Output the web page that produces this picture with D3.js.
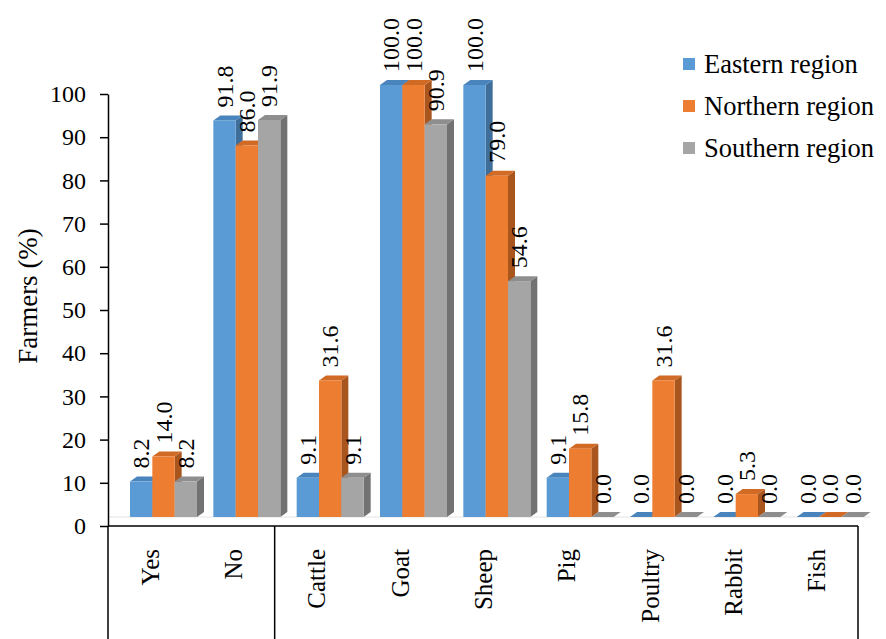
<html lang="en">
  <head>
    <meta charset="UTF-8" />
    <title>Farmers by region</title>
    <script src="https://d3js.org/d3.v7.min.js"></script>
    <style>
      body {
        margin: 0px;
        overflow: hidden;
        background: #fff;
      }
    </style>
  </head>
  <body>
    <svg width="886" height="639"></svg>
    <script>
      var categories = ["Yes", "No", "Cattle", "Goat", "Sheep", "Pig", "Poultry", "Rabbit", "Fish"];
      var series = ["Eastern region", "Northern region", "Southern region"];
      var eastern = [8.2, 91.8, 9.1, 100.0, 100.0, 9.1, 0.0, 0.0, 0.0];
      var northern = [14.0, 86.0, 31.6, 100.0, 79.0, 15.8, 31.6, 5.3, 0.0];
      var southern = [8.2, 91.9, 9.1, 90.9, 54.6, 0.0, 0.0, 0.0, 0.0];
      var yTicks = [0, 10, 20, 30, 40, 50, 60, 70, 80, 90, 100];

      var colors = {
        front: ["#5B9BD5", "#ED7D31", "#A5A5A5"],
        top: ["#4A84BC", "#D06A25", "#8E8E8E"],
        side: ["#3F6E9B", "#A9561E", "#727272"]
      };
      var serif = "'Liberation Serif', 'Times New Roman', serif";

      var svg = d3.select("svg").style("font-family", serif);
      var width = +svg.attr("width");
      var height = +svg.attr("height");

      var values = [eastern, northern, southern];
      var data = categories.map(function (c, i) {
        return { cat: c, vals: series.map(function (s, j) { return { s: s, j: j, v: values[j][i] }; }) };
      });

      // category bands span the table under the plot
      var x = d3.scaleBand().domain(categories).range([108, 858]);
      var y = d3.scaleLinear().domain([0, 100]).range([526, 94]);
      var inner = d3.scaleBand().domain(series).range([0, 67]);

      // 3d look: front faces shifted right/up, depth goes up-right
      var shiftX = 22, shiftY = -9;
      var dx = 7, dy = -5;

      // floor edge
      svg.append("line")
        .attr("x1", 108).attr("x2", 870)
        .attr("y1", y(0) + shiftY).attr("y2", y(0) + shiftY)
        .attr("stroke", "#e3e3e3").attr("stroke-width", 1);

      var groups = svg.selectAll("g.cat")
        .data(data)
        .enter()
        .append("g")
        .attr("class", "cat")
        .attr("transform", function (d) { return "translate(" + (x(d.cat) + shiftX) + ",0)"; });

      groups.each(function (d) {
        var g = d3.select(this);
        d.vals.forEach(function (b) {
          var x0 = inner(b.s), x1 = x0 + inner.bandwidth();
          var yt = y(b.v) + shiftY, yb = y(0) + shiftY;
          // side face
          g.append("path")
            .attr("d", "M" + x1 + "," + yb + "L" + (x1 + dx) + "," + (yb + dy) + "L" + (x1 + dx) + "," + (yt + dy) + "L" + x1 + "," + yt + "Z")
            .attr("fill", colors.side[b.j]);
          // top face
          g.append("path")
            .attr("d", "M" + x0 + "," + yt + "L" + (x0 + dx) + "," + (yt + dy) + "L" + (x1 + dx) + "," + (yt + dy) + "L" + x1 + "," + yt + "Z")
            .attr("fill", colors.top[b.j]);
          // front face
          g.append("rect")
            .attr("x", x0)
            .attr("y", yt)
            .attr("width", inner.bandwidth())
            .attr("height", yb - yt)
            .attr("fill", colors.front[b.j]);
        });
      });

      // value labels
      groups.each(function (d) {
        var g = d3.select(this);
        d.vals.forEach(function (b) {
          var cx = inner(b.s) + inner.bandwidth() / 2;
          var yt = y(b.v) + shiftY - 13;
          g.append("text")
            .attr("transform", "translate(" + (cx + 8) + "," + yt + ") rotate(-90)")
            .attr("text-anchor", "start")
            .style("font-family", serif)
            .attr("font-size", 24)
            .text(b.v.toFixed(1));
        });
      });

      // y axis
      var yAxis = svg.append("g")
        .attr("transform", "translate(108,0)")
        .call(d3.axisLeft(y).tickValues(yTicks).tickSize(8).tickSizeOuter(0).tickPadding(14));
      yAxis.selectAll("path, line").attr("stroke", "#000").attr("stroke-width", 1.5);
      yAxis.selectAll("text")
        .style("font-family", serif)
        .attr("font-size", 24)
        .attr("fill", "#000");

      svg.append("text")
        .attr("transform", "translate(37," + (y(50) - 14) + ") rotate(-90)")
        .attr("text-anchor", "middle")
        .style("font-family", serif)
        .attr("font-size", 27)
        .text("Farmers (%)");

      // category table
      var tbl = svg.append("g").attr("stroke", "#000").attr("stroke-width", 1.5);
      tbl.append("line").attr("x1", 108).attr("x2", 858).attr("y1", 526).attr("y2", 526);
      tbl.append("line").attr("x1", 108).attr("x2", 108).attr("y1", 526).attr("y2", height);
      tbl.append("line").attr("x1", x("Cattle")).attr("x2", x("Cattle")).attr("y1", 526).attr("y2", height);
      tbl.append("line").attr("x1", 858).attr("x2", 858).attr("y1", 526).attr("y2", height);

      svg.selectAll("text.cat")
        .data(categories)
        .enter()
        .append("text")
        .attr("class", "cat")
        .attr("transform", function (d) {
          return "translate(" + (x(d) + x.bandwidth() / 2 + 9) + ",549) rotate(-90)";
        })
        .attr("text-anchor", "end")
        .style("font-family", serif)
        .attr("font-size", 25)
        .text(function (d) { return d; });

      // legend
      var legend = svg.selectAll("g.leg")
        .data(series)
        .enter()
        .append("g")
        .attr("class", "leg")
        .attr("transform", function (d, i) { return "translate(683," + (64 + i * 42) + ")"; });
      legend.append("rect")
        .attr("x", 0).attr("y", -6).attr("width", 12).attr("height", 12)
        .attr("fill", function (d, i) { return colors.front[i]; });
      legend.append("text")
        .attr("x", 21).attr("y", 9)
        .style("font-family", serif)
        .attr("font-size", 26.5)
        .text(function (d) { return d; });
    </script>
  </body>
</html>
